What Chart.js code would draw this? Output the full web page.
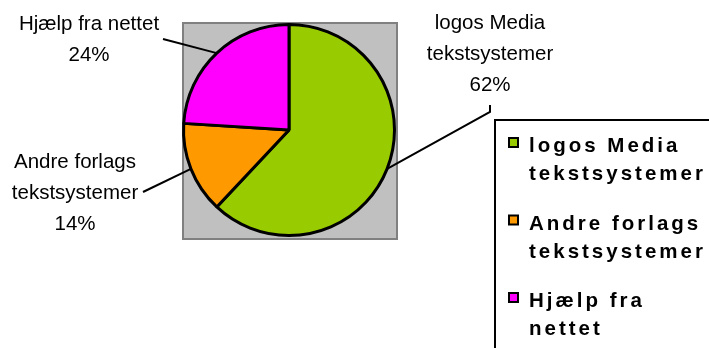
<!DOCTYPE html>
<html>
<head>
<meta charset="utf-8">
<script src="https://cdn.jsdelivr.net/npm/chart.js@4"></script>
<style>
  html, body { margin: 0; padding: 0; background: #fff; }
  #wrap { width: 709px; height: 348px; position: relative; }
</style>
</head>
<body>
<div id="wrap"><canvas id="chart" width="709" height="348"></canvas></div>
<script>
// data
const categories = ['logos Media tekstsystemer', 'Andre forlags tekstsystemer', 'Hjælp fra nettet'];
const shares = [62, 14, 24];
const sliceColors = ['#99cc00', '#ff9900', '#ff00ff'];

// label lines as they wrap in the picture
const labelLines = [['logos Media', 'tekstsystemer'], ['Andre forlags', 'tekstsystemer'], ['Hjælp fra nettet']];
const legendLines = [['logos Media', 'tekstsystemer'], ['Andre forlags', 'tekstsystemer'], ['Hjælp fra', 'nettet']];

// where each data label sits (centre x, first baseline) and where its leader ends
const labelPos = [{x: 490, y: 29}, {x: 75, y: 168}, {x: 89, y: 30}];
const leaderEnd = [[[490, 112], [490, 105]], [[143, 192]], [[163, 39]]];

const plotBox = {
    id: 'plotBox',
    beforeDatasetsDraw(chart) {
        const ctx = chart.ctx;
        const a = chart.chartArea;
        ctx.save();
        ctx.fillStyle = '#c0c0c0';
        ctx.strokeStyle = '#808080';
        ctx.lineWidth = 2;
        ctx.fillRect(a.left + 1, a.top + 1, a.right - a.left, a.bottom - a.top);
        ctx.strokeRect(a.left + 1, a.top + 1, a.right - a.left, a.bottom - a.top);
        ctx.restore();
    }
};

const labels = {
    id: 'labels',
    afterDatasetsDraw(chart) {
        const ctx = chart.ctx;
        const arcs = chart.getDatasetMeta(0).data;
        ctx.save();
        ctx.strokeStyle = '#000';
        ctx.lineWidth = 2;
        arcs.forEach((arc, i) => {
            const mid = (arc.startAngle + arc.endAngle) / 2;
            ctx.beginPath();
            ctx.moveTo(arc.x + Math.cos(mid) * arc.outerRadius, arc.y + Math.sin(mid) * arc.outerRadius);
            leaderEnd[i].forEach(p => ctx.lineTo(p[0], p[1]));
            ctx.stroke();
        });
        ctx.fillStyle = '#000';
        ctx.font = '20.5px "Liberation Sans", Arial, sans-serif';
        ctx.textAlign = 'center';
        ctx.textBaseline = 'alphabetic';
        labelLines.forEach((lines, i) => {
            const all = lines.concat([shares[i] + '%']);
            all.forEach((t, k) => {
                ctx.fillText(t, labelPos[i].x, labelPos[i].y + k * 31);
            });
        });
        ctx.restore();
    }
};

const boxLegend = {
    id: 'boxLegend',
    afterDraw(chart) {
        const ctx = chart.ctx;
        ctx.save();
        ctx.strokeStyle = '#000';
        ctx.lineWidth = 2;
        ctx.strokeRect(495, 120, 300, 300);
        ctx.font = 'bold 20.5px "Liberation Sans", Arial, sans-serif';
        ctx.letterSpacing = '3px';
        ctx.textAlign = 'left';
        legendLines.forEach((lines, i) => {
            const base = 152 + i * 77.5;
            ctx.fillStyle = sliceColors[i];
            ctx.fillRect(509, base - 14, 9, 9);
            ctx.lineWidth = 2;
            ctx.strokeRect(509, base - 14, 9, 9);
            ctx.fillStyle = '#000';
            lines.forEach((t, k) => ctx.fillText(t, 529, base + k * 28));
        });
        ctx.restore();
    }
};

new Chart(document.getElementById('chart'), {
    type: 'pie',
    data: {
        labels: categories,
        datasets: [{
            data: shares,
            backgroundColor: sliceColors,
            borderColor: '#000',
            borderWidth: 3
        }]
    },
    options: {
        responsive: false,
        animation: false,
        layout: {padding: {left: 182, right: 313, top: 22, bottom: 110}},
        plugins: {
            legend: {display: false},
            tooltip: {enabled: false}
        }
    },
    plugins: [plotBox, labels, boxLegend]
});
</script>
</body>
</html>
